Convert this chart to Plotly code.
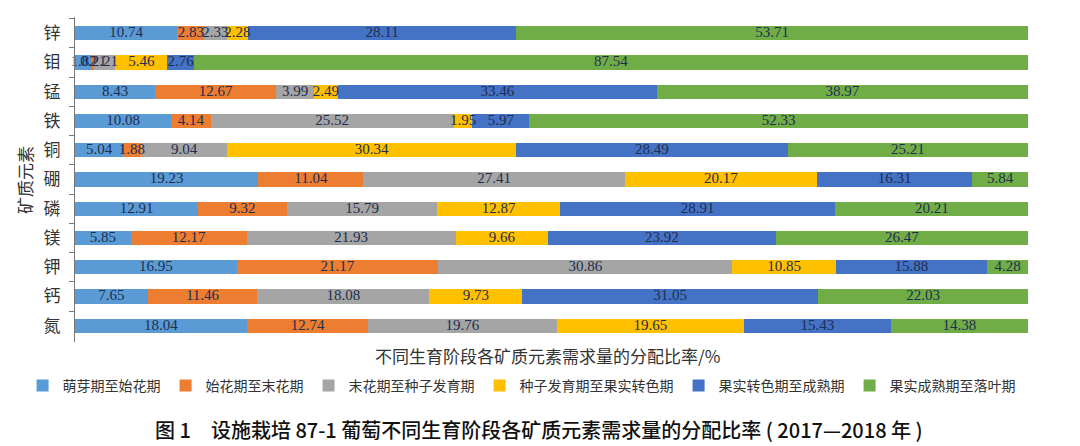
import plotly.graph_objects as go

elements = ["锌", "钼", "锰", "铁", "铜", "硼", "磷", "镁", "钾", "钙", "氮"]
stages = ["萌芽期至始花期", "始花期至末花期", "末花期至种子发育期",
          "种子发育期至果实转色期", "果实转色期至成熟期", "果实成熟期至落叶期"]

s1 = [10.74, 1.82, 8.43, 10.08, 5.04, 19.23, 12.91, 5.85, 16.95, 7.65, 18.04]
s2 = [2.83, 0.21, 12.67, 4.14, 1.88, 11.04, 9.32, 12.17, 21.17, 11.46, 12.74]
s3 = [2.33, 2.21, 3.99, 25.52, 9.04, 27.41, 15.79, 21.93, 30.86, 18.08, 19.76]
s4 = [2.28, 5.46, 2.49, 1.95, 30.34, 20.17, 12.87, 9.66, 10.85, 9.73, 19.65]
s5 = [28.11, 2.76, 33.46, 5.97, 28.49, 16.31, 28.91, 23.92, 15.88, 31.05, 15.43]
s6 = [53.71, 87.54, 38.97, 52.33, 25.21, 5.84, 20.21, 26.47, 4.28, 22.03, 14.38]
series = [s1, s2, s3, s4, s5, s6]
colors = ["#5B9BD5", "#ED7D31", "#A5A5A5", "#FFC000", "#4472C4", "#70AD47"]

fig = go.Figure()
for name, vals, col in zip(stages, series, colors):
    fig.add_trace(go.Bar(
        y=elements, x=vals, name=name, orientation="h",
        marker=dict(color=col, line=dict(width=0)),
    ))

# value labels drawn on top of all bars, centred in each segment
base = [0.0] * len(elements)
for vals in series:
    mids = [b + v / 2 for b, v in zip(base, vals)]
    fig.add_trace(go.Scatter(
        x=mids, y=elements, mode="text",
        text=[f"{v:.2f}" for v in vals],
        textposition="middle center",
        textfont=dict(family="Liberation Serif", size=15, color="#1F2D4F"),
        showlegend=False, hoverinfo="skip", cliponaxis=False,
    ))
    base = [b + v for b, v in zip(base, vals)]

fig.update_layout(
    barmode="stack",
    bargap=0.52,
    width=1080, height=446,
    margin=dict(l=75, r=52, t=17, b=104, autoexpand=False),
    paper_bgcolor="white", plot_bgcolor="white",
    showlegend=True,
    legend=dict(orientation="h", x=-0.055, xanchor="left", xref="paper",
                y=-0.135, yanchor="middle",
                font=dict(family="Noto Sans CJK SC", size=14, color="#333"),
                itemwidth=30, traceorder="normal", tracegroupgap=0),
    font=dict(family="Noto Sans CJK SC"),
)
fig.update_xaxes(range=[0, 100], showticklabels=False, showgrid=False,
                 zeroline=False, showline=False, ticks="")
fig.update_yaxes(autorange="reversed", showline=True, linecolor="#777",
                 linewidth=1, ticks="outside", tickson="boundaries",
                 ticklen=5, tickcolor="#777", showgrid=False,
                 ticklabelstandoff=10,
                 tickfont=dict(family="Noto Sans CJK SC", size=17, color="#333"))

fig.add_annotation(text="不同生育阶段各矿质元素需求量的分配比率/%",
                   xref="paper", yref="paper", x=0.496, y=-0.043,
                   showarrow=False, yanchor="middle",
                   font=dict(family="Noto Sans CJK SC", size=17, color="#333"))
fig.add_annotation(text="矿质元素", textangle=-90,
                   xref="paper", yref="paper", x=-0.053, y=0.5,
                   showarrow=False, xanchor="center",
                   font=dict(family="Noto Sans CJK SC", size=17, color="#333"))
fig.add_annotation(text="图 1　设施栽培 87-1 葡萄不同生育阶段各矿质元素需求量的分配比率 ( 2017—2018 年 )",
                   xref="paper", yref="paper", x=0.487, y=-0.27,
                   showarrow=False, yanchor="middle",
                   font=dict(family="Noto Sans CJK SC", size=20, color="#111", weight=500))

fig.write_html("out.html")
